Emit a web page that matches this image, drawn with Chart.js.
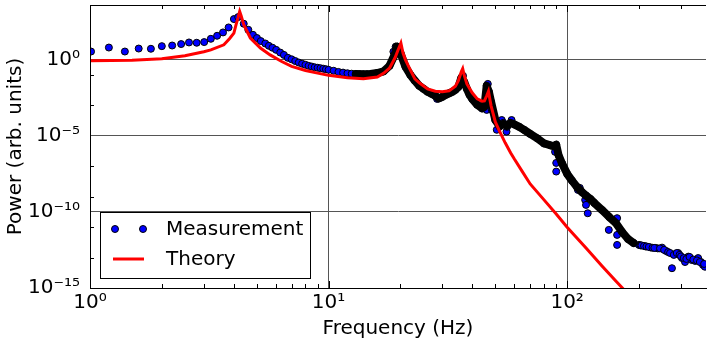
<!DOCTYPE html>
<html>
<head>
<meta charset="utf-8">
<script src="https://cdn.jsdelivr.net/npm/chart.js@4"></script>
<style>
html, body { margin: 0; padding: 0; background: #fff; }
</style>
</head>
<body>
<canvas id="myChart" width="711" height="342"></canvas>
<script>
// measured spectrum (Hz, arb. units)
var measFreq = [1.01, 1.2, 1.4, 1.6, 1.8, 2.0, 2.21, 2.41, 2.6, 2.8, 3.01, 3.21, 3.41, 3.61, 3.81, 4.01, 4.18, 4.41, 4.61, 4.82,
    5.01, 5.2, 5.43, 5.62, 5.82, 6.03, 6.27, 6.5, 6.75, 7, 7.25, 7.5, 7.75, 8, 8.25, 8.5, 8.75, 9, 9.25, 9.5, 9.75,
    10, 10.5, 11, 11.5, 12, 12.5, 13, 13.5, 14, 14.5, 15, 16, 17, 18, 18.7, 19, 19.1, 19.5, 20, 21, 22, 23, 24, 25, 26, 27, 28, 28.5, 29,
    30, 31, 32, 33, 34, 35, 36, 36.6, 37, 38, 39, 40, 42, 44, 45, 46, 46, 46.5, 47, 48, 48.3, 50, 50.7, 52, 53.2, 54,
    55.7, 56, 58, 58.5, 60, 63, 66, 70, 75, 80, 85, 88, 89, 90, 90, 90, 92, 95, 100, 105, 110, 111, 113, 115, 119, 120,
    120, 122, 125, 130, 140, 149.5, 150, 160, 162, 162, 162, 170, 180, 190, 200, 203, 213, 224, 235, 240, 250, 260,
    275, 284, 292, 303, 312, 322, 333, 344, 354, 364, 371, 378,
    205, 210, 215, 220, 228, 232, 245, 255, 265, 270, 280, 288, 296, 300, 308, 316, 326, 338, 350, 360, 375];
var measPower = [3.5, 6.4, 3.5, 5.5, 5.3, 7.9, 8.7, 10.8, 13.8, 13.2, 14.6, 24, 38, 63, 134, 475, 645, 234, 94, 44,
    27, 17, 11.8, 8.3, 6.2, 4.5, 3.0, 2.1, 1.35, 1.08, 0.83, 0.66, 0.55, 0.47, 0.40, 0.36, 0.32, 0.30, 0.28, 0.26, 0.24,
    0.22, 0.19, 0.16, 0.144, 0.13, 0.122, 0.116, 0.113, 0.111, 0.113, 0.116, 0.135, 0.175, 0.40, 3.4, 2.5, 7.2, 7.2, 2.9, 0.35, 0.103, 0.042, 0.0195, 0.0123, 7.9e-3, 5.8e-3, 4.3e-3, 2.7e-3, 2.9e-3,
    3.7e-3, 5.0e-3, 6.3e-3, 7.9e-3, 0.0107, 0.0166, 0.065, 0.089, 0.036, 0.0123, 5.0e-3, 2.7e-3, 1.1e-3, 6.4e-4, 8.1e-4, 5.1e-4, 0.0195, 0.026, 7.9e-3, 1.7e-3, 5.1e-4, 1.1e-4, 2.5e-5, 3.9e-5, 1.1e-4, 7.2e-5,
    1.9e-5, 3.9e-5, 7.2e-5, 1.1e-4, 5.7e-5, 3.9e-5, 2.5e-5, 1.35e-5, 6.9e-6, 3.2e-6, 2.4e-6, 2.1e-6, 8.9e-7, 2.6e-6, 1.66e-7, 4.5e-8, 5.6e-7, 1.66e-7, 3.2e-8, 1.1e-8, 4.4e-9, 2.8e-9, 3.8e-9, 2.1e-9, 6.2e-10, 1.2e-9,
    2.9e-10, 8.2e-11, 7.2e-10, 3.9e-10, 1.35e-10, 6.6e-12, 4.7e-11, 1.9e-11, 3.9e-11, 3.1e-12, 6.8e-13, 4.8e-12, 1.67e-12, 9.1e-13, 6.8e-13, 6.3e-13, 5.4e-13, 4.6e-13, 4.3e-13, 4.0e-13, 4.5e-13, 2.7e-13,
    2.0e-14, 1.7e-13, 2.0e-13, 9.3e-14, 5.1e-14, 1.15e-13, 6.9e-14, 6.0e-14, 9.3e-14, 5.1e-14, 3.3e-14, 2.5e-14,
    6.3e-13, 5.8e-13, 5.4e-13, 5.0e-13, 4.4e-13, 4.3e-13, 4.0e-13, 3.2e-13, 2.3e-13, 2.0e-13, 1.5e-13, 2.0e-13, 1.5e-13, 1.2e-13, 9.3e-14, 8.1e-14, 1.1e-13, 7.5e-14, 6.5e-14, 5.1e-14, 3.8e-14];

// where the measured points pile up into a solid dark band
var denseFreq = [13, 14, 15, 16, 17, 18, 19, 19.3, 20, 21, 22, 23, 24, 25, 26, 27, 28, 29, 30, 31, 32, 33, 34, 35,
    36, 37, 38, 39, 40, 42, 44, 45, 46, 47, 48, 50, 52, 54, 56, 58, 60, 63, 66, 70, 75, 80, 85, 88, 90, 92, 95,
    100, 105, 110, 115, 120, 125, 130, 140, 150, 160, 170, 180, 190];
var densePower = [0.116, 0.111, 0.116, 0.135, 0.175, 0.40, 2.5, 7.5, 2.9, 0.35, 0.103, 0.042, 0.0195, 0.0123, 7.9e-3, 5.8e-3, 4.3e-3, 2.9e-3, 3.7e-3, 5.0e-3, 6.3e-3, 7.9e-3, 0.0107, 0.0166,
    0.065, 0.036, 0.0123, 5.0e-3, 2.7e-3, 1.1e-3, 6.4e-4, 8.1e-4, 0.0195, 7.9e-3, 1.7e-3, 1.1e-4, 4.5e-5, 6.2e-5, 4.5e-5, 7.2e-5, 5.7e-5, 3.9e-5, 2.5e-5, 1.35e-5, 6.9e-6, 3.2e-6, 2.4e-6, 2.1e-6, 2.6e-6, 5.6e-7, 1.66e-7,
    3.2e-8, 1.1e-8, 4.4e-9, 2.1e-9, 1.2e-9, 7.2e-10, 3.9e-10, 1.35e-10, 4.7e-11, 1.9e-11, 4.8e-12, 1.67e-12, 9.1e-13];

// theory curve
var theoryFreq = [1, 1.5, 2, 2.5, 3, 3.21, 3.64, 3.85, 4.01, 4.1, 4.17, 4.24, 4.3, 4.41, 4.7, 5.18, 5.69, 6.36, 7, 8, 9,
    10, 12, 14, 16, 17, 18, 19, 19.5, 20.1, 20.5, 21, 22, 23, 24, 26, 28, 30, 32, 34, 35, 36, 36.5, 37, 38, 40, 42,
    44, 45, 46, 46.8, 47.5, 48, 50, 52, 55, 58, 60, 65, 70, 80, 90, 100, 120, 140, 160, 180];
var theoryPower = [0.86, 0.93, 1.16, 1.83, 3.4, 4.5, 9.7, 25, 57, 224, 550, 1500, 780, 200, 27, 5.9, 2.1, 0.77, 0.37, 0.20, 0.133,
    0.095, 0.067, 0.056, 0.073, 0.13, 0.28, 1.35, 3.9, 12.5, 2.9, 1.0, 0.22, 0.056, 0.031, 0.0123, 8.5e-3, 7.9e-3, 9.1e-3, 0.018, 0.042, 0.16, 0.26, 0.103, 0.026, 6.8e-3, 2.7e-3,
    1.9e-3, 2.0e-3, 4.3e-3, 8.5e-3, 2.3e-3, 9.4e-4, 8.3e-5, 2.1e-5, 3.5e-6, 7.6e-7, 3.1e-7, 4.3e-8, 6.9e-9, 6.2e-10, 7.4e-11, 1.0e-11, 4.3e-13, 2.8e-14, 2.9e-15, 4.0e-16];

var xTickValues = [1, 10, 100];
var xTickLabels = ['10\u2070', '10\u00b9', '10\u00b2'];
var yTickValues = [1e-15, 1e-10, 1e-5, 1];
var yTickLabels = ['10\u207b\u00b9\u2075', '10\u207b\u00b9\u2070', '10\u207b\u2075', '10\u2070'];

function toPoints(xs, ys) {
    return xs.map(function (x, i) { return {x: x, y: ys[i]}; });
}

Chart.defaults.font.family = 'DejaVu Sans';
Chart.defaults.font.size = 20;
Chart.defaults.color = '#000';

// top spine, inward minor ticks and the boxed legend
var decorations = {
    id: 'decorations',
    afterDatasetsDraw: function (chart) {
        var c = chart.ctx, a = chart.chartArea;
        var xs = chart.scales.x, ys = chart.scales.y;
        c.save();
        c.strokeStyle = '#000';
        c.lineWidth = 1;
        c.beginPath();
        c.moveTo(a.left, a.top + 0.5); c.lineTo(a.right, a.top + 0.5);
        c.moveTo(a.left + 0.5, a.top); c.lineTo(a.left + 0.5, a.bottom);
        c.moveTo(a.left, a.bottom + 0.5); c.lineTo(a.right, a.bottom + 0.5);
        for (var d = 1; d <= 100; d *= 10) {
            for (var k = 2; k <= 9; k++) {
                var v = k * d;
                if (v > xs.max) break;
                var px = Math.round(xs.getPixelForValue(v)) + 0.5;
                c.moveTo(px, a.bottom); c.lineTo(px, a.bottom - 4);
                c.moveTo(px, a.top); c.lineTo(px, a.top + 4);
            }
        }
        xTickValues.forEach(function (v) {
            var px = Math.round(xs.getPixelForValue(v)) + 0.5;
            c.moveTo(px, a.bottom); c.lineTo(px, a.bottom - 7);
            c.moveTo(px, a.top); c.lineTo(px, a.top + 7);
        });
        [-13, -11, -9, -7, -3, -1].forEach(function (e) {
            var py = Math.round(ys.getPixelForValue(Math.pow(10, e))) + 0.5;
            c.moveTo(a.left, py); c.lineTo(a.left + 4, py);
        });
        c.stroke();

        // legend
        var lx = a.left + 10, ly = a.top + 207, lw = 210, lh = 66;
        c.fillStyle = '#fff';
        c.fillRect(lx, ly, lw, lh);
        c.strokeRect(lx + 0.5, ly + 0.5, lw, lh);
        var m = chart.data.datasets[2];
        [lx + 15, lx + 43].forEach(function (cx) {
            c.beginPath();
            c.arc(cx, ly + 17, m.pointRadius, 0, Math.PI * 2);
            c.fillStyle = m.backgroundColor;
            c.fill();
            c.lineWidth = m.borderWidth;
            c.strokeStyle = m.borderColor;
            c.stroke();
        });
        var t = chart.data.datasets[0];
        c.beginPath();
        c.moveTo(lx + 13, ly + 47); c.lineTo(lx + 44, ly + 47);
        c.strokeStyle = t.borderColor;
        c.lineWidth = t.borderWidth;
        c.stroke();
        c.fillStyle = '#000';
        c.font = '20px "DejaVu Sans"';
        c.textBaseline = 'middle';
        c.fillText(m.label, lx + 66, ly + 18);
        c.fillText(t.label, lx + 66, ly + 48);
        c.restore();
    }
};

var ctx = document.getElementById('myChart').getContext('2d');
var myChart = new Chart(ctx, {
    type: 'scatter',
    data: {
        datasets: [{
            label: 'Theory',
            data: toPoints(theoryFreq, theoryPower),
            showLine: true,
            borderColor: '#ff0000',
            borderWidth: 3,
            pointRadius: 0,
            tension: 0,
            order: 0
        }, {
            label: 'dense',
            data: toPoints(denseFreq, densePower),
            showLine: true,
            borderColor: '#000',
            borderWidth: 8,
            borderJoinStyle: 'round',
            borderCapStyle: 'round',
            pointRadius: 0,
            order: 1
        }, {
            label: 'Measurement',
            data: toPoints(measFreq, measPower),
            pointRadius: 3.5,
            backgroundColor: '#0000ff',
            borderColor: '#000',
            borderWidth: 1,
            order: 2
        }]
    },
    options: {
        responsive: false,
        animation: false,
        layout: { padding: { top: 5, right: 0, left: 0, bottom: 0 } },
        plugins: {
            legend: { display: false },
            tooltip: { enabled: false }
        },
        scales: {
            x: {
                type: 'logarithmic',
                min: 1,
                max: 382,
                afterBuildTicks: function (scale) {
                    scale.ticks = xTickValues.map(function (v) { return {value: v}; });
                },
                afterFit: function (scale) {
                    scale.height = 54;
                    scale.paddingLeft = 0;
                    scale.paddingRight = 0;
                },
                ticks: {
                    autoSkip: false,
                    maxRotation: 0,
                    padding: 3,
                    callback: function (value, index) { return xTickLabels[index]; }
                },
                grid: { color: '#555', lineWidth: 1, drawTicks: false },
                border: { color: '#000' },
                title: { display: true, text: 'Frequency (Hz)', padding: { top: 0, bottom: 1 } }
            },
            y: {
                type: 'logarithmic',
                min: 1e-15,
                max: 4e3,
                afterBuildTicks: function (scale) {
                    scale.ticks = yTickValues.map(function (v) { return {value: v}; });
                },
                afterFit: function (scale) {
                    scale.width = 90;
                    scale.paddingTop = 0;
                    scale.paddingBottom = 0;
                },
                ticks: {
                    autoSkip: false,
                    padding: 10,
                    callback: function (value, index) { return yTickLabels[index]; }
                },
                grid: { color: '#555', lineWidth: 1, drawTicks: false },
                border: { color: '#000' },
                title: { display: true, text: 'Power (arb. units)', padding: { top: 4, bottom: 0 } }
            }
        }
    },
    plugins: [decorations]
});
</script>
</body>
</html>
